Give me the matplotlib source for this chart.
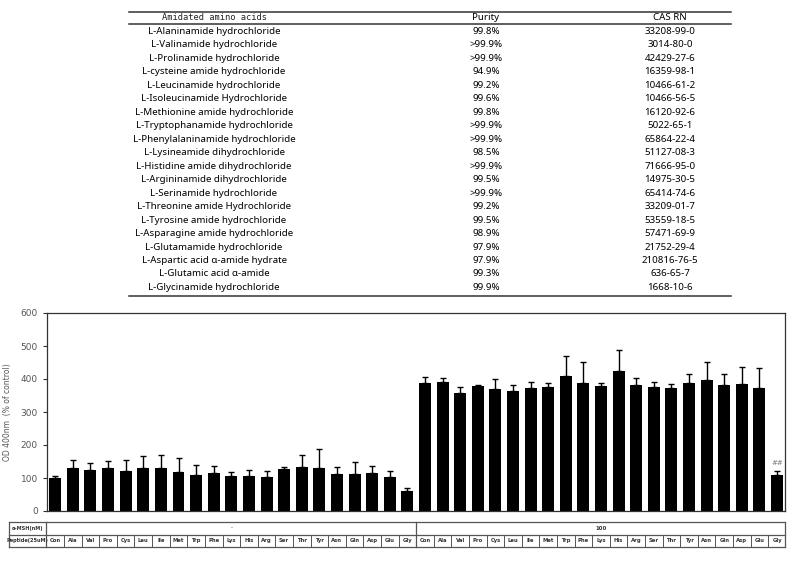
import matplotlib.pyplot as plt
from matplotlib.lines import Line2D
import numpy as np

# table data
names = ['L-Alaninamide hydrochloride', 'L-Valinamide hydrochloride', 'L-Prolinamide hydrochloride',
         'L-cysteine amide hydrochloride', 'L-Leucinamide hydrochloride', 'L-Isoleucinamide Hydrochloride',
         'L-Methionine amide hydrochloride', 'L-Tryptophanamide hydrochloride',
         'L-Phenylalaninamide hydrochloride', 'L-Lysineamide dihydrochloride',
         'L-Histidine amide dihydrochloride', 'L-Argininamide dihydrochloride', 'L-Serinamide hydrochloride',
         'L-Threonine amide Hydrochloride', 'L-Tyrosine amide hydrochloride',
         'L-Asparagine amide hydrochloride', 'L-Glutamamide hydrochloride',
         'L-Aspartic acid \u03b1-amide hydrate', 'L-Glutamic acid \u03b1-amide', 'L-Glycinamide hydrochloride']
purity = ['99.8%', '>99.9%', '>99.9%', '94.9%', '99.2%', '99.6%', '99.8%', '>99.9%', '>99.9%', '98.5%',
          '>99.9%', '99.5%', '>99.9%', '99.2%', '99.5%', '98.9%', '97.9%', '97.9%', '99.3%', '99.9%']
cas = ['33208-99-0', '3014-80-0', '42429-27-6', '16359-98-1', '10466-61-2', '10466-56-5', '16120-92-6',
       '5022-65-1', '65864-22-4', '51127-08-3', '71666-95-0', '14975-30-5', '65414-74-6', '33209-01-7',
       '53559-18-5', '57471-69-9', '21752-29-4', '210816-76-5', '636-65-7', '1668-10-6']

# bar chart data
peptides = ['Con', 'Ala', 'Val', 'Pro', 'Cys', 'Leu', 'Ile', 'Met', 'Trp', 'Phe', 'Lys',
            'His', 'Arg', 'Ser', 'Thr', 'Tyr', 'Asn', 'Gln', 'Asp', 'Glu', 'Gly']
msh_levels = ['-', '100']
vals_no_msh = [99, 129, 123, 129, 120, 129, 129, 117, 108, 114, 105, 105, 104, 126, 132, 129, 112, 112, 114, 102, 61]
tops_no_msh = [107, 155, 146, 152, 155, 168, 171, 161, 140, 137, 118, 125, 122, 134, 171, 189, 134, 148, 137, 122, 71]
vals_msh = [387, 390, 357, 378, 369, 363, 372, 375, 408, 387, 378, 423, 381, 375, 372, 387, 396, 381, 384, 372, 108]
tops_msh = [407, 404, 377, 382, 401, 383, 392, 389, 470, 452, 389, 488, 404, 392, 386, 416, 452, 416, 437, 434, 122]

W, H = 799, 563
fig = plt.figure(figsize=(W / 100, H / 100), dpi=100)

def fx(px):
    return px / W

def fy(py):
    return 1 - py / H

# ---- top table ----
for yy in [12, 24, 296]:
    fig.add_artist(Line2D([fx(129), fx(731)], [fy(yy), fy(yy)], color='#333333', lw=1.1))
fig.text(fx(214), fy(18), 'Amidated amino acids', family='DejaVu Sans Mono', fontsize=6.3,
         ha='center', va='center', color='#222222')
fig.text(fx(486), fy(18), 'Purity', family='Noto Sans', fontsize=7, ha='center', va='center')
fig.text(fx(670), fy(18), 'CAS RN', family='Noto Sans', fontsize=7, ha='center', va='center')
for i in range(len(names)):
    yy = 31.5 + i * 13.47
    fig.text(fx(214), fy(yy), names[i], family='Noto Sans', fontsize=7, ha='center', va='center')
    fig.text(fx(486), fy(yy), purity[i], family='Noto Sans', fontsize=7, ha='center', va='center')
    fig.text(fx(670), fy(yy), cas[i], family='Noto Sans', fontsize=7, ha='center', va='center')

# ---- bar chart ----
ax = fig.add_axes([fx(47), fy(511), fx(785) - fx(47), fy(313) - fy(511)])
vals = np.array(vals_no_msh + vals_msh)
tops = np.array(tops_no_msh + tops_msh)
x = np.arange(len(vals))
ax.bar(x, vals, width=0.68, color='black')
ax.errorbar(x, vals, yerr=[np.zeros(len(vals)), tops - vals], fmt='none', ecolor='black',
            elinewidth=1, capsize=2.5, capthick=1)
ax.text(x[-1], tops[-1] + 22, '##', ha='center', va='center', fontsize=5, color='#777777', style='italic')
ax.set_xlim(-0.47, 41.45)
ax.set_ylim(0, 600)
ax.set_yticks(range(0, 601, 100))
ax.set_xticks([])
ax.tick_params(axis='y', labelsize=6.5, length=3, color='#333333', labelcolor='#555555', direction='out')
for s in ax.spines.values():
    s.set_color('#333333')
    s.set_linewidth(0.9)
ax.set_ylabel('OD 400nm  (% of control)', fontsize=5.5, color='#555555', labelpad=6)

# ---- bottom condition table ----
tax = fig.add_axes([fx(9), fy(547), fx(785) - fx(9), fy(522) - fy(547)])
unit = (785 - 47) / (41.45 + 0.47)
left = -0.47 - (47 - 9) / unit
tax.set_xlim(left, 41.45)
tax.set_ylim(0, 2)
tax.axis('off')
lc = '#555555'
for yy in [0, 1, 2]:
    tax.plot([left, 41.45], [yy, yy], color=lc, lw=0.9, clip_on=False)
for xx in [left, -0.5, 20.5, 41.45]:
    tax.plot([xx, xx], [0, 2], color=lc, lw=0.9, clip_on=False)
for k in range(42):
    tax.plot([k + 0.5, k + 0.5], [0, 1], color=lc, lw=0.7)
    tax.text(k, 0.5, peptides[k % 21], ha='center', va='center', fontsize=3.8, fontweight='bold', color='#333333')
tax.text(10, 1.5, msh_levels[0], ha='center', va='center', fontsize=4, color='#333333')
tax.text(31, 1.5, msh_levels[1], ha='center', va='center', fontsize=4, fontweight='bold', color='#333333')
tax.text((left - 0.5) / 2, 1.5, '\u03b1-MSH(nM)', ha='center', va='center', fontsize=3.6, fontweight='bold', color='#333333')
tax.text((left - 0.5) / 2, 0.5, 'Peptide(25uM)', ha='center', va='center', fontsize=3.6, fontweight='bold', color='#333333')

fig.savefig('out.png', dpi=100)
